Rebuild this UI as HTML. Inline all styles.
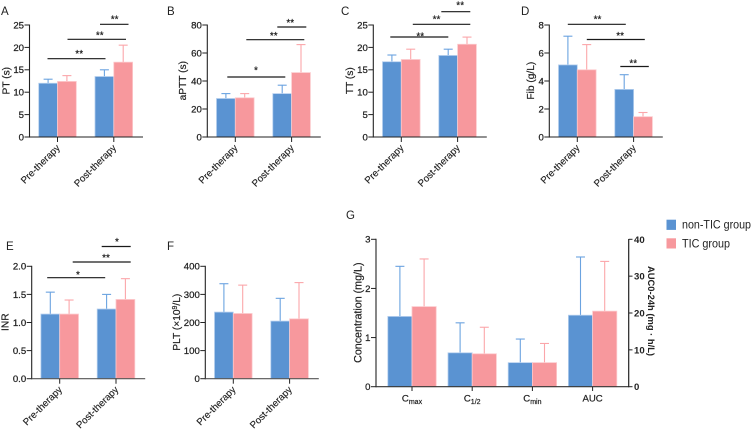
<!DOCTYPE html>
<html>
<head>
<meta charset="utf-8">
<style>
html,body{margin:0;padding:0;background:#fff;width:752px;height:429px;overflow:hidden}
svg{display:block;filter:blur(0.3px)}
text{font-family:"Liberation Sans",Arial,sans-serif;fill:#222}
</style>
</head>
<body>
<svg id="figure" width="752" height="429" viewBox="0 0 752 429" xmlns="http://www.w3.org/2000/svg"></svg>
<script>
const therapyCategories = ['Pre-therapy', 'Post-therapy'];
const drugCategories = ['Cmax', 'C1/2', 'Cmin', 'AUC'];
const seriesNames = ['non-TIC group', 'TIC group'];

const ptNonTic = [12.0, 13.5];
const ptTic = [12.4, 16.7];
const ptNonTicErr = [12.9, 15.0];
const ptTicErr = [13.7, 20.5];
const ptTicks = [0, 5, 10, 15, 20, 25];

const apttNonTic = [27.5, 31];
const apttTic = [28, 46];
const apttNonTicErr = [31, 37];
const apttTicErr = [31, 66];
const apttTicks = [0, 20, 40, 60, 80];

const ttNonTic = [16.8, 18.2];
const ttTic = [17.3, 20.7];
const ttNonTicErr = [18.3, 19.6];
const ttTicErr = [19.6, 22.3];
const ttTicks = [0, 5, 10, 15, 20, 25];

const fibNonTic = [5.15, 3.4];
const fibTic = [4.8, 1.45];
const fibNonTicErr = [7.2, 4.45];
const fibTicErr = [6.6, 1.75];
const fibTicks = [0, 2, 4, 6, 8];

const inrNonTic = [1.15, 1.24];
const inrTic = [1.15, 1.41];
const inrNonTicErr = [1.54, 1.50];
const inrTicErr = [1.40, 1.78];
const inrTicks = ['0.0', '0.5', '1.0', '1.5', '2.0'];

const pltNonTic = [237, 205];
const pltTic = [232, 213];
const pltNonTicErr = [338, 286];
const pltTicErr = [333, 342];
const pltTicks = [0, 100, 200, 300, 400];

const concNonTic = [1.43, 0.69, 0.49];
const concTic = [1.63, 0.67, 0.49];
const concNonTicErr = [2.45, 1.30, 0.97];
const concTicErr = [2.60, 1.21, 0.88];
const aucNonTic = [19.4];
const aucTic = [20.5];
const aucNonTicErr = [35.2];
const aucTicErr = [34.0];
const concTicks = [0, 1, 2, 3];
const aucTicks = [0, 10, 20, 30, 40];

const NS = 'http://www.w3.org/2000/svg';
const fig = document.getElementById('figure');
const BLUE = '#5a93d2', PINK = '#f7989d', BLUE_EDGE = '#b5cfee', PINK_EDGE = '#fcc9cc',
      BLUE_ERR = '#6ba3e0', PINK_ERR = '#fba6aa', AXIS = '#222';

function make(tag, attrs, parent, txt) {
  const el = document.createElementNS(NS, tag);
  for (const k in attrs) el.setAttribute(k, attrs[k]);
  if (txt !== undefined) el.textContent = txt;
  (parent || fig).appendChild(el);
  return el;
}
function seg(p, x1, y1, x2, y2, color, w) {
  return make('line', {x1, y1, x2, y2, stroke: color, 'stroke-width': w}, p);
}

function bar(p, x, w, yScale, value, errTop, fill, edge, errColor, name) {
  const group = make('g', {}, p);
  
  
  const y0 = yScale(0), yv = yScale(value), ye = yScale(errTop), cx = x + w / 2;
  seg(group, cx, yv, cx, ye, errColor, 1.1);
  seg(group, cx - 4.5, ye, cx + 4.5, ye, errColor, 1.1);
  make('rect', {x: x, y: yv, width: w, height: y0 - yv, fill: fill, stroke: edge, 'stroke-width': 0.8}, group);
}

function leftAxis(p, geom, ticks, max, title, titleX, titleSize) {
  const yScale = v => geom.y0 - (v / max) * (geom.y0 - geom.yTop);
  const g = make('g', {}, p);
  
  
  seg(g, geom.x, geom.yTop - 0.5, geom.x, geom.y0 + 0.6, AXIS, 1.1);
  ticks.forEach(t => {
    const y = yScale(+t);
    seg(g, geom.x - 5, y, geom.x, y, AXIS, 1);
    make('text', {x: geom.x - 5.5, y: y + 3.4, 'text-anchor': 'end', 'font-size': 9.6, stroke: '#222', 'stroke-width': 0.25}, g, t);
  });
  const tt = make('text', {transform: `translate(${titleX},${(geom.y0 + geom.yTop) / 2 - 0.3}) rotate(-90)`, 'text-anchor': 'middle', 'font-size': titleSize || 10.2, stroke: '#222', 'stroke-width': 0.2}, g);
  title.forEach(part => {
    make('tspan', part.sup ? {'baseline-shift': 'super', 'font-size': 7} : {}, tt, part.t);
  });
  return yScale;
}

function therapyPanel(cfg) {
  const p = make('g', {});
  
  
  const lab = make('text', {x: cfg.letterX, y: cfg.letterY, 'font-size': 11.5}, p, cfg.letter);
  
  
  const geom = {x: cfg.x, y0: cfg.y0, yTop: cfg.yTop};
  const yScale = leftAxis(p, geom, cfg.ticks, cfg.max, cfg.title, cfg.titleX);
  const W = 18.8, STEP = 56.3, FIRST = cfg.x + 28;
  const xScale = i => FIRST + i * STEP;
  therapyCategories.forEach((c, i) => {
    const cx = xScale(i);
    bar(p, cx - W, W, yScale, cfg.a[i], cfg.aErr[i], BLUE, BLUE_EDGE, BLUE_ERR, 'bar-non-tic-' + c.toLowerCase());
    bar(p, cx, W, yScale, cfg.b[i], cfg.bErr[i], PINK, PINK_EDGE, PINK_ERR, 'bar-tic-' + c.toLowerCase());
  });
  const xa = make('g', {}, p);
  
  
  seg(xa, cfg.x, cfg.y0, cfg.x + 113.5, cfg.y0, cfg.axisColor || AXIS, 1.1);
  therapyCategories.forEach((c, i) => {
    const cx = xScale(i);
    seg(xa, cx, cfg.y0, cx, cfg.y0 + 5, AXIS, 1);
    make('text', {transform: `translate(${cx + 3},${cfg.y0 + 11.5}) rotate(-45)`, 'text-anchor': 'end', 'font-size': 9.7, stroke: '#222', 'stroke-width': 0.15}, xa, c);
  });
  cfg.brackets.forEach(b => {
    const g = make('g', {}, p);
    
    
    seg(g, cfg.x + b[0], b[2], cfg.x + b[1], b[2], '#1a1a1a', 1.2);
    make('text', {x: cfg.x + (b[0] + b[1]) / 2 + b[4], y: b[2] - b[5], 'text-anchor': 'middle', 'font-size': 10, stroke: '#222', 'stroke-width': 0.2}, g, b[3]);
  });
}

therapyPanel({name: 'panel-a-pt', letter: 'A', letterX: 1, letterY: 15, x: 29.5, y0: 137, yTop: 25, max: 25,
  ticks: ptTicks, title: [{t: 'PT (s)'}], titleX: 9.5, a: ptNonTic, b: ptTic, aErr: ptNonTicErr, bErr: ptTicErr,
  brackets: [[18, 76, 58.7, '**', 2.7, 1.5], [38, 96.5, 39.3, '**', 3, 0.7], [70.5, 99, 24.3, '**', 0.4, 1.6]]});

therapyPanel({name: 'panel-b-aptt', letter: 'B', letterX: 167, letterY: 15, x: 207.3, y0: 137, yTop: 25, max: 80,
  ticks: apttTicks, title: [{t: 'aPTT (s)'}], titleX: 186, a: apttNonTic, b: apttTic, aErr: apttNonTicErr, bErr: apttTicErr,
  brackets: [[20, 78, 77, '*', -0.3, 3.3], [39, 97, 39.7, '**', -1.5, 0.5], [70, 99, 27, '**', -1.5, 1]]});

therapyPanel({name: 'panel-c-tt', letter: 'C', letterX: 341, letterY: 15, x: 373.3, y0: 137, yTop: 25, max: 25,
  ticks: ttTicks, title: [{t: 'TT (s)'}], titleX: 353, a: ttNonTic, b: ttTic, aErr: ttNonTicErr, bErr: ttTicErr,
  brackets: [[17, 75, 37, '**', 1, -2.3], [39.5, 97, 24.3, '**', -5, 1.6], [68, 97, 11.7, '**', 4.4, 3.4]]});

therapyPanel({name: 'panel-d-fib', letter: 'D', letterX: 521, letterY: 15, x: 549.3, y0: 137, yTop: 25, max: 8,
  ticks: fibTicks, title: [{t: 'Fib (g/L)'}], titleX: 534, a: fibNonTic, b: fibTic, aErr: fibNonTicErr, bErr: fibTicErr,
  brackets: [[18.5, 76.5, 24.3, '**', 0.7, 1.6], [37.5, 95.5, 39.5, '**', 4.3, 0.7], [71, 99.5, 66.5, '**', -1.3, 0]]});

therapyPanel({name: 'panel-e-inr', letter: 'E', letterX: 6, letterY: 250, x: 31.7, y0: 378.7, yTop: 266.3, max: 2,
  ticks: inrTicks, title: [{t: 'INR'}], titleX: 8.5, a: inrNonTic, b: inrTic, aErr: inrNonTicErr, bErr: inrTicErr, axisColor: '#555',
  brackets: [[15.5, 73.5, 277.7, '*', 1.7, -0.3], [41, 99, 262, '**', 4.3, 1], [70, 99, 246.5, '*', 0.7, 1.7]]});

therapyPanel({name: 'panel-f-plt', letter: 'F', letterX: 167, letterY: 250, x: 205.3, y0: 378.7, yTop: 266.3, max: 400,
  ticks: pltTicks, title: [{t: 'PLT (×10'}, {t: '9', sup: true}, {t: '/L)'}], titleX: 180, a: pltNonTic, b: pltTic, aErr: pltNonTicErr, bErr: pltTicErr, axisColor: '#555',
  brackets: []});

(function drawPanelG() {
  const p = make('g', {});
  
  
  make('text', {x: 346, y: 219, 'font-size': 11.5}, p, 'G');
  const geom = {x: 376, y0: 386.7, yTop: 239.3};
  const yLeft = leftAxis(p, geom, concTicks, 3, [{t: 'Concentration (mg/L)'}], 361.5, 10.7);
  const yRight = v => geom.y0 - (v / 40) * (geom.y0 - geom.yTop);
  const W = 24.2, STEP = 60.2, FIRST = 412;
  const xScale = i => FIRST + i * STEP;
  [0, 1, 2].forEach(i => {
    const cx = xScale(i);
    bar(p, cx - W, W, yLeft, concNonTic[i], concNonTicErr[i], BLUE, BLUE_EDGE, BLUE_ERR, 'bar-non-tic-' + drugCategories[i]);
    bar(p, cx, W, yLeft, concTic[i], concTicErr[i], PINK, PINK_EDGE, PINK_ERR, 'bar-tic-' + drugCategories[i]);
  });
  const auc = xScale(3);
  bar(p, auc - W, W, yRight, aucNonTic[0], aucNonTicErr[0], BLUE, BLUE_EDGE, BLUE_ERR, 'bar-non-tic-auc');
  bar(p, auc, W, yRight, aucTic[0], aucTicErr[0], PINK, PINK_EDGE, PINK_ERR, 'bar-tic-auc');

  const xa = make('g', {}, p);
  
  
  seg(xa, 376, 386.7, 628.7, 386.7, '#333', 1.2);
  const subs = [['C', 'max'], ['C', '1/2'], ['C', 'min'], ['AUC', '']];
  drugCategories.forEach((c, i) => {
    const cx = xScale(i);
    seg(xa, cx, 386.7, cx, 391, AXIS, 1);
    const t = make('text', {x: cx, y: 401.5, 'text-anchor': 'middle', 'font-size': 9.6, stroke: '#222', 'stroke-width': 0.2}, xa, subs[i][0]);
    if (subs[i][1]) make('tspan', {'font-size': 7, dy: 2.5}, t, subs[i][1]);
  });

  const ra = make('g', {}, p);
  
  
  seg(ra, 628.7, 239, 628.7, 387.2, AXIS, 1.2);
  aucTicks.forEach(t => {
    const y = yRight(t);
    seg(ra, 628.7, y, 632.5, y, AXIS, 1);
    make('text', {x: 634, y: y + 3.5, 'font-size': 9.6, 'font-weight': 'bold'}, ra, t);
  });
  make('text', {transform: 'translate(648,311) rotate(90)', 'text-anchor': 'middle', 'font-size': 9.4, 'font-weight': 'bold'}, ra, 'AUC0-24h (mg · h/L)');
})();

(function drawLegend() {
  const g = make('g', {});
  
  
  seriesNames.forEach((name, i) => {
    const e = make('g', {}, g);
    
    
    const y = 219.7 + i * 18.6;
    make('rect', {x: 666.5, y: y, width: 9.5, height: 10.2, fill: i ? PINK : BLUE}, e);
    make('text', {x: 682, y: y + 9, 'font-size': 11.6, textLength: i ? 48 : 69, lengthAdjust: 'spacingAndGlyphs', fill: '#333'}, e, name);
  });
})();
</script>
</body>
</html>
